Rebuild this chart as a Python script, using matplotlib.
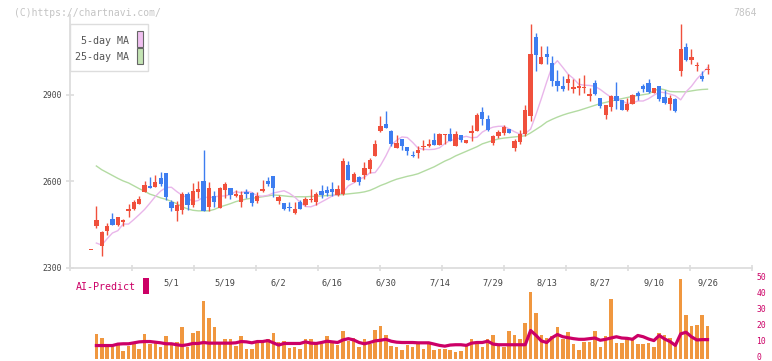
import numpy as np
import matplotlib
matplotlib.use('Agg')
import matplotlib.pyplot as plt
from matplotlib.patches import Rectangle
from matplotlib.transforms import ScaledTranslation

# Daily candles (index 0 is the lone marker at the far left)
opens = [2361, 2444, 2375, 2428, 2469, 2448, 2459, 2497, 2503, 2522,
         2563, 2583, 2581, 2611, 2629, 2528, 2498, 2500, 2556, 2518,
         2562, 2601, 2511, 2549, 2508, 2570, 2578, 2549, 2529, 2564,
         2558, 2532, 2566, 2601, 2618, 2532, 2525, 2510, 2488, 2529,
         2517, 2535, 2529, 2566, 2570, 2573, 2552, 2556, 2656, 2597,
         2614, 2622, 2643, 2689, 2776, 2799, 2775, 2715, 2747, 2720,
         2692, 2698, 2718, 2724, 2742, 2727, 2762, 2764, 2724, 2760,
         2733, 2768, 2776, 2841, 2816, 2733, 2758, 2768, 2782, 2716,
         2735, 2764, 2826, 3102, 3009, 3043, 3011, 2950, 2931, 2942,
         2922, 2924, 2924, 2898, 2942, 2889, 2831, 2857, 2896, 2884,
         2849, 2869, 2907, 2932, 2942, 2907, 2930, 2892, 2869, 2887,
         2984, 3067, 3023, 2999, 2967, 2986]
highs = [2361, 2514, 2428, 2456, 2491, 2477, 2470, 2521, 2535, 2549,
         2602, 2613, 2623, 2632, 2629, 2535, 2531, 2564, 2564, 2595,
         2601, 2709, 2598, 2566, 2581, 2597, 2578, 2568, 2566, 2572,
         2562, 2562, 2604, 2614, 2618, 2552, 2525, 2529, 2529, 2535,
         2546, 2573, 2564, 2587, 2583, 2596, 2587, 2680, 2670, 2631,
         2619, 2666, 2682, 2743, 2827, 2844, 2778, 2761, 2747, 2720,
         2706, 2721, 2744, 2747, 2768, 2768, 2765, 2785, 2774, 2760,
         2742, 2797, 2837, 2858, 2831, 2762, 2779, 2794, 2782, 2748,
         2779, 2866, 3147, 3116, 3071, 3070, 3037, 2988, 2967, 2973,
         2957, 2959, 2968, 2924, 2953, 2889, 2864, 2901, 2945, 2884,
         2890, 2903, 2913, 2938, 2956, 2924, 2930, 2918, 2899, 2889,
         3145, 3081, 3060, 3016, 2984, 3008]
lows = [2361, 2436, 2340, 2413, 2448, 2444, 2444, 2477, 2500, 2522,
        2563, 2578, 2581, 2583, 2535, 2498, 2463, 2486, 2500, 2511,
        2541, 2497, 2497, 2511, 2506, 2543, 2539, 2544, 2511, 2541,
        2515, 2525, 2564, 2583, 2546, 2521, 2500, 2497, 2485, 2503,
        2515, 2529, 2517, 2541, 2549, 2549, 2549, 2552, 2605, 2597,
        2587, 2608, 2628, 2689, 2772, 2786, 2724, 2715, 2709, 2690,
        2683, 2681, 2710, 2718, 2727, 2725, 2730, 2739, 2724, 2735,
        2733, 2739, 2774, 2795, 2774, 2725, 2750, 2762, 2768, 2706,
        2730, 2756, 2811, 2984, 3009, 3008, 2932, 2915, 2913, 2918,
        2907, 2901, 2907, 2878, 2899, 2855, 2818, 2843, 2852, 2849,
        2845, 2869, 2884, 2910, 2907, 2907, 2878, 2869, 2849, 2840,
        2965, 3019, 3008, 2984, 2950, 2973]
closes = [2361, 2465, 2422, 2444, 2448, 2475, 2466, 2503, 2528, 2538,
          2587, 2578, 2597, 2589, 2546, 2508, 2517, 2556, 2519, 2566,
          2573, 2497, 2575, 2527, 2575, 2589, 2552, 2557, 2552, 2557,
          2525, 2549, 2573, 2591, 2578, 2546, 2503, 2506, 2503, 2503,
          2538, 2539, 2556, 2552, 2560, 2564, 2573, 2670, 2605, 2625,
          2598, 2646, 2674, 2730, 2792, 2786, 2730, 2733, 2721, 2706,
          2687, 2710, 2724, 2730, 2727, 2764, 2765, 2741, 2764, 2744,
          2742, 2774, 2829, 2818, 2779, 2756, 2771, 2787, 2768, 2739,
          2764, 2847, 3043, 3040, 3032, 3031, 2947, 2930, 2922, 2957,
          2929, 2931, 2928, 2903, 2903, 2861, 2864, 2896, 2880, 2849,
          2869, 2899, 2896, 2921, 2911, 2924, 2887, 2872, 2889, 2845,
          3060, 3023, 3032, 3002, 2957, 2991]

# moving averages as drawn (candles 1..115)
ma5 = [2385, 2378, 2400, 2420, 2428, 2451, 2451, 2467, 2484, 2502,
       2524, 2547, 2566, 2578, 2579, 2564, 2551, 2543, 2529, 2533,
       2546, 2542, 2546, 2548, 2549, 2553, 2564, 2560, 2565, 2561,
       2549, 2548, 2551, 2559, 2563, 2567, 2558, 2545, 2527, 2512,
       2511, 2518, 2528, 2538, 2549, 2554, 2561, 2584, 2594, 2607,
       2614, 2629, 2630, 2655, 2688, 2726, 2742, 2754, 2752, 2735,
       2715, 2711, 2710, 2711, 2716, 2731, 2742, 2745, 2752, 2756,
       2751, 2753, 2771, 2781, 2788, 2791, 2791, 2782, 2772, 2764,
       2766, 2781, 2832, 2887, 2945, 2999, 3019, 2996, 2972, 2957,
       2937, 2934, 2933, 2930, 2919, 2905, 2892, 2885, 2881, 2870,
       2872, 2879, 2879, 2887, 2899, 2910, 2908, 2903, 2897, 2883,
       2911, 2930, 2955, 2975, 2995]
ma25 = [2653, 2640, 2630, 2620, 2610, 2601, 2594, 2584, 2574, 2565,
        2555, 2549, 2542, 2537, 2530, 2522, 2511, 2504, 2499, 2497,
        2497, 2497, 2502, 2510, 2516, 2522, 2529, 2534, 2538, 2541,
        2543, 2546, 2549, 2552, 2551, 2549, 2547, 2546, 2546, 2546,
        2547, 2548, 2549, 2550, 2551, 2552, 2554, 2556, 2558, 2560,
        2563, 2568, 2576, 2585, 2592, 2600, 2607, 2612, 2617, 2621,
        2626, 2634, 2642, 2650, 2660, 2670, 2678, 2688, 2696, 2704,
        2712, 2720, 2730, 2736, 2742, 2747, 2750, 2752, 2754, 2756,
        2758, 2768, 2780, 2792, 2806, 2815, 2823, 2830, 2836, 2841,
        2846, 2852, 2858, 2864, 2870, 2874, 2879, 2883, 2887, 2891,
        2895, 2898, 2901, 2904, 2914, 2922, 2918, 2912, 2911, 2911,
        2911, 2914, 2917, 2919, 2920]

# volume bars and AI-Predict line (candles 1..115)
volume = [15.2, 13.1, 6.9, 6.9, 8.5, 5.0, 7.9, 10.6, 6.2, 15.6,
          8.8, 9.4, 6.9, 14.2, 8.5, 10.6, 20.0, 7.5, 16.2, 16.9,
          36.2, 25.6, 20.0, 10.6, 11.9, 12.5, 8.1, 13.8, 6.2, 6.2,
          10.0, 10.6, 12.0, 16.2, 10.6, 11.2, 6.6, 6.9, 6.2, 11.9,
          12.5, 9.4, 8.8, 13.8, 10.6, 8.5, 17.5, 11.2, 12.7, 6.9,
          12.5, 8.8, 18.1, 20.6, 15.0, 8.1, 7.5, 5.6, 8.5, 6.9,
          8.8, 6.2, 9.4, 5.6, 6.2, 6.2, 5.6, 4.0, 4.4, 8.5,
          12.5, 9.4, 7.5, 11.9, 15.0, 8.5, 7.5, 16.9, 14.4, 12.5,
          22.0, 41.4, 28.3, 15.0, 12.7, 14.0, 20.0, 11.9, 16.5, 8.8,
          5.6, 10.6, 10.6, 17.5, 7.5, 14.0, 37.3, 9.6, 9.6, 11.9,
          11.9, 8.8, 8.8, 9.6, 7.5, 16.2, 14.4, 13.1, 8.5, 49.4,
          26.9, 20.6, 21.2, 26.9, 20.6]
ai_predict = [8.1, 8.1, 8.1, 8.1, 9.0, 9.2, 9.2, 9.8, 10.4, 10.6,
              10.6, 10.2, 9.8, 9.2, 9.2, 8.6, 8.1, 8.6, 9.4, 9.4,
              10.0, 9.6, 9.6, 9.6, 9.6, 9.6, 9.8, 10.6, 10.4, 9.8,
              10.6, 10.6, 11.2, 9.8, 8.4, 9.4, 9.4, 9.4, 9.4, 10.4,
              9.6, 9.4, 10.0, 10.8, 10.4, 10.0, 11.6, 12.4, 11.6, 10.0,
              9.2, 10.0, 11.0, 11.4, 12.0, 10.8, 10.2, 10.0, 10.0, 10.0,
              9.8, 9.8, 9.8, 9.0, 8.2, 7.7, 8.4, 8.6, 8.6, 8.2,
              9.6, 10.0, 10.0, 10.8, 9.0, 8.6, 8.6, 8.6, 8.6, 8.6,
              8.6, 17.5, 14.5, 11.0, 10.0, 13.0, 15.0, 13.6, 13.0, 12.4,
              12.0, 12.0, 12.4, 12.8, 11.4, 12.0, 12.8, 13.6, 12.8, 12.6,
              12.0, 14.4, 13.6, 12.2, 11.2, 14.4, 12.2, 10.6, 8.2, 15.4,
              16.4, 13.6, 11.6, 11.8, 11.8]

date_labels = ['5/1', '5/19', '6/2', '6/16', '6/30', '7/14',
               '7/29', '8/13', '8/27', '9/10', '9/26']
date_index = [15, 25, 35, 45, 55, 65, 75, 85, 95, 105, 115]
price_ticks = [2300, 2600, 2900]
vol_ticks = [0, 10, 20, 30, 40, 50]

RED = '#f0503c'
BLUE = '#3d7df0'
PINK = '#e9b6ea'
GREEN = '#b3dba2'
ORANGE = '#f0973f'
MAGENTA = '#cc0066'
GRID = '#dddddd'
FONT = 'DejaVu Sans Mono'

W, H = 772.0, 361.0
XLIM = (-3.92, 123.3)

fig = plt.figure(figsize=(W / 100, H / 100), dpi=100, facecolor='white')

# ---- price panel
ax = fig.add_axes([70 / W, 1 - 267.5 / H, 682 / W, 252.5 / H])
o = np.array(opens, float)
c = np.array(closes, float)
x = np.arange(len(c))
up = c >= o
cols = np.where(up, RED, BLUE)
ax.vlines(x, lows, highs, colors=cols, linewidth=1.0, zorder=2)
body_lo = np.minimum(o, c)
body_h = np.maximum(np.abs(c - o), 3.5)
ax.bar(x, body_h, bottom=body_lo, width=0.8, color=cols, linewidth=0, zorder=3)

xm = np.arange(1, len(c))
ax.plot(xm, ma25, color=GREEN, linewidth=1.0, zorder=1)
ax.plot(xm, ma5, color=PINK, linewidth=1.0, zorder=1)

ax.set_xlim(*XLIM)
ax.set_ylim(2300, 3178)
for s in ['top', 'right']:
    ax.spines[s].set_visible(False)
for s in ['left', 'bottom']:
    ax.spines[s].set_color(GRID)
    ax.spines[s].set_linewidth(1.3)

ax.set_yticks(price_ticks)
ax.set_yticklabels([str(v) for v in price_ticks], family=FONT, fontsize=5.8, color='#444444')
ax.tick_params(axis='y', length=6, direction='inout', color=GRID, width=1.2, pad=3)

ax.set_xticks(date_index)
ax.set_xticklabels(date_labels, family=FONT, fontsize=6.2, color='#444444')
ax.tick_params(axis='x', which='major', length=0, pad=8)
ax.set_xticks(np.linspace(XLIM[0], XLIM[1], 12), minor=True)
ax.tick_params(axis='x', which='minor', length=5, direction='inout', color=GRID, width=1.2)

# ---- volume panel
ax2 = fig.add_axes([70 / W, 1 - 358.5 / H, 682 / W, 89 / H])
ax2.bar(xm, volume, width=0.66, color=ORANGE, linewidth=0, zorder=1)
ax2.plot(xm, ai_predict, color=MAGENTA, linewidth=2.3, zorder=2)
ax2.set_xlim(*XLIM)
ax2.set_ylim(0, 89 / 1.6)
for s in ax2.spines.values():
    s.set_visible(False)
ax2.set_xticks([])
ax2.yaxis.tick_right()
ax2.set_yticks(vol_ticks)
ax2.set_yticklabels([str(v) for v in vol_ticks], family=FONT, fontsize=5.8, color=MAGENTA)
ax2.tick_params(axis='y', length=0, pad=3)
lift = ScaledTranslation(0, 2.0 / 100, fig.dpi_scale_trans)
for lab in ax2.get_yticklabels():
    lab.set_transform(lab.get_transform() + lift)
ax2.patch.set_alpha(0)

# ---- decorations in pixel units
def fx(px):
    return px / W


def fy(py):
    return 1 - py / H


fig.text(fx(14), fy(12.5), '(C)https://chartnavi.com/', family=FONT, fontsize=7,
         color='#c4c4c4', va='center', ha='left')
fig.text(fx(757), fy(12.5), '7864', family=FONT, fontsize=7,
         color='#c4c4c4', va='center', ha='right')

fig.add_artist(Rectangle((fx(70), fy(71)), fx(148) - fx(70), fy(24) - fy(71),
                         transform=fig.transFigure, facecolor='white',
                         edgecolor=GRID, linewidth=1.0, zorder=5))
fig.text(fx(129), fy(41), '5-day MA', family=FONT, fontsize=7.2, color='#555555',
         ha='right', va='center', zorder=6)
fig.text(fx(129), fy(57), '25-day MA', family=FONT, fontsize=7.2, color='#555555',
         ha='right', va='center', zorder=6)
for top, fc in [(31.5, '#f0c0f0'), (48.5, '#c4e4b4')]:
    fig.add_artist(Rectangle((fx(136.5), fy(top + 15)), fx(6.5), fy(0) - fy(15),
                             transform=fig.transFigure, facecolor=fc,
                             edgecolor='#666666', linewidth=0.8, zorder=6))

fig.text(fx(76), fy(287), 'AI-Predict', family=FONT, fontsize=7.2, color=MAGENTA,
         ha='left', va='center')
fig.add_artist(Rectangle((fx(142.5), fy(293.5)), fx(6.5), fy(0) - fy(16),
                         transform=fig.transFigure, facecolor=MAGENTA,
                         edgecolor='none', zorder=6))

fig.savefig('out.png', dpi=100, facecolor='white')
